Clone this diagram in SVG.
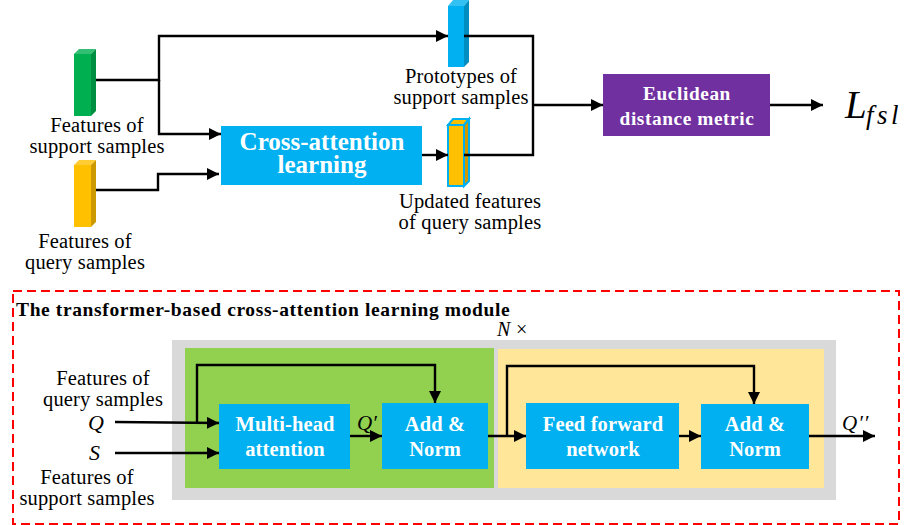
<svg xmlns="http://www.w3.org/2000/svg" width="924" height="525" viewBox="0 0 924 525">
  <style>
    text { font-family: "Liberation Serif", "Times New Roman", serif; fill: #000; }
    .lbl { font-size: 20.5px; letter-spacing: 0.17px; text-anchor: middle; }
    .box { font-weight: bold; fill: #fff; text-anchor: middle; font-size: 20.5px; letter-spacing: 0.12px; }
    .wide { font-size: 25px; letter-spacing: 0; }
    .metric { font-size: 19.3px; letter-spacing: 0.6px; }
    .math { font-style: italic; }
    .wire { fill: none; stroke: #000; stroke-width: 2.4; }
    .blue { fill: #00b0f0; }
  </style>
  <defs>
    <marker id="tip" markerUnits="userSpaceOnUse" markerWidth="13" markerHeight="13" refX="12" refY="6" orient="auto">
      <path d="M0 0L12 6L0 12Z" fill="#000"/>
    </marker>
  </defs>

  <rect x="13" y="291" width="886" height="233" fill="none" stroke="#f00" stroke-width="2" stroke-dasharray="9 5"/>
  <text x="16" y="316" font-size="19.5" font-weight="bold" letter-spacing="0.62">The transformer-based cross-attention learning module</text>
  <text x="497" y="336" font-size="20" class="math">N</text>
  <text x="516" y="336" font-size="20">×</text>

  <g id="repeat-block">
    <rect x="172" y="340" width="664" height="160" fill="#d9d9d9"/>
    <rect x="185" y="348" width="309" height="140" fill="#92d050"/>
    <rect x="498" y="349" width="326" height="139" fill="#ffe699"/>
  </g>

  <g id="support-features">
    <path d="M74 54L79 49H96L91 54Z" fill="#33bf73"/>
    <path d="M91 54L96 49V111L91 116Z" fill="#008f42"/>
    <rect x="74" y="54" width="17" height="62" fill="#00b050"/>
    <text class="lbl" x="97" y="132">Features of</text>
    <text class="lbl" x="97" y="153">support samples</text>
  </g>

  <g id="query-features">
    <path d="M74 165L79 160H96L91 165Z" fill="#ffcd33"/>
    <path d="M91 165L96 160V222L91 227Z" fill="#cc9a00"/>
    <rect x="74" y="165" width="17" height="62" fill="#ffc000"/>
    <text class="lbl" x="85" y="248">Features of</text>
    <text class="lbl" x="85" y="269">query samples</text>
  </g>

  <g id="prototypes">
    <path d="M448 6L453 0H469L464 6Z" fill="#33c0f3"/>
    <path d="M464 6L469 0V62L464 67Z" fill="#008dc0"/>
    <rect x="448" y="6" width="16" height="61" fill="#00b0f0"/>
    <text class="lbl" x="461" y="83">Prototypes of</text>
    <text class="lbl" x="461" y="104">support samples</text>
  </g>

  <g id="updated-features">
    <path d="M448 125L453 119H469L464 125Z" fill="#ffc000" stroke="#00b0f0" stroke-width="2"/>
    <path d="M464 125L469 119V181L464 186Z" fill="#cc9a00" stroke="#00b0f0" stroke-width="2"/>
    <rect x="448" y="125" width="16" height="61" fill="#ffc000" stroke="#00b0f0" stroke-width="2"/>
    <text class="lbl" x="470" y="208">Updated features</text>
    <text class="lbl" x="470" y="229">of query samples</text>
  </g>

  <g id="cross-attention">
    <rect class="blue" x="221" y="126" width="201" height="59"/>
    <text class="box wide" x="322" y="150">Cross-attention</text>
    <text class="box wide" x="322" y="173">learning</text>
  </g>

  <g id="euclidean">
    <rect x="603" y="74" width="167" height="62" fill="#7030a0"/>
    <text class="box metric" x="687" y="100">Euclidean</text>
    <text class="box metric" x="687" y="125">distance metric</text>
  </g>

  <g id="loss">
    <text class="math" x="845" y="118" font-size="39">L</text>
    <text class="math" x="866" y="124" font-size="27" letter-spacing="3.5">fsl</text>
  </g>

  <g id="multi-head">
    <rect class="blue" x="219" y="404" width="131" height="65"/>
    <text class="box" x="285" y="431">Multi-head</text>
    <text class="box" x="285" y="456">attention</text>
  </g>
  <g id="add-norm-1">
    <rect class="blue" x="382" y="403" width="106" height="66"/>
    <text class="box" x="435" y="431">Add &amp;</text>
    <text class="box" x="435" y="456">Norm</text>
  </g>
  <g id="feed-forward">
    <rect class="blue" x="526" y="403" width="153" height="66"/>
    <text class="box" x="603" y="431">Feed forward</text>
    <text class="box" x="603" y="456">network</text>
  </g>
  <g id="add-norm-2">
    <rect class="blue" x="701" y="404" width="108" height="65"/>
    <text class="box" x="755" y="431">Add &amp;</text>
    <text class="box" x="755" y="456">Norm</text>
  </g>

  <g id="module-labels">
    <text class="lbl" x="103" y="385">Features of</text>
    <text class="lbl" x="103" y="406">query samples</text>
    <text class="math" x="88" y="430" font-size="22">Q</text>
    <text class="math" x="89" y="460" font-size="22">S</text>
    <text class="lbl" x="87" y="484">Features of</text>
    <text class="lbl" x="87" y="505">support samples</text>
    <text class="math" x="357" y="430" font-size="21">Q′</text>
    <text class="math" x="842" y="430" font-size="21" letter-spacing="1">Q′′</text>
  </g>

  <g id="connectors">
    <path class="wire" d="M96 80H159V36H448" marker-end="url(#tip)"/>
    <path class="wire" d="M159 80V134H221" marker-end="url(#tip)"/>
    <path class="wire" d="M96 190H158V174H219" marker-end="url(#tip)"/>
    <path class="wire" d="M422 155H448" marker-end="url(#tip)"/>
    <path class="wire" d="M464 36H533V155H464"/>
    <path class="wire" d="M533 105H603" marker-end="url(#tip)"/>
    <path class="wire" d="M770 105H823" marker-end="url(#tip)"/>
    <path class="wire" d="M115 422L219 423" marker-end="url(#tip)"/>
    <path class="wire" d="M115 453H219" marker-end="url(#tip)"/>
    <path class="wire" d="M197 422V365H435V403" marker-end="url(#tip)"/>
    <path class="wire" d="M350 436H382" marker-end="url(#tip)"/>
    <path class="wire" d="M488 436H526" marker-end="url(#tip)"/>
    <path class="wire" d="M507 436V366H754V404" marker-end="url(#tip)"/>
    <path class="wire" d="M679 436H701" marker-end="url(#tip)"/>
    <path class="wire" d="M809 436H875" marker-end="url(#tip)"/>
  </g>
</svg>
